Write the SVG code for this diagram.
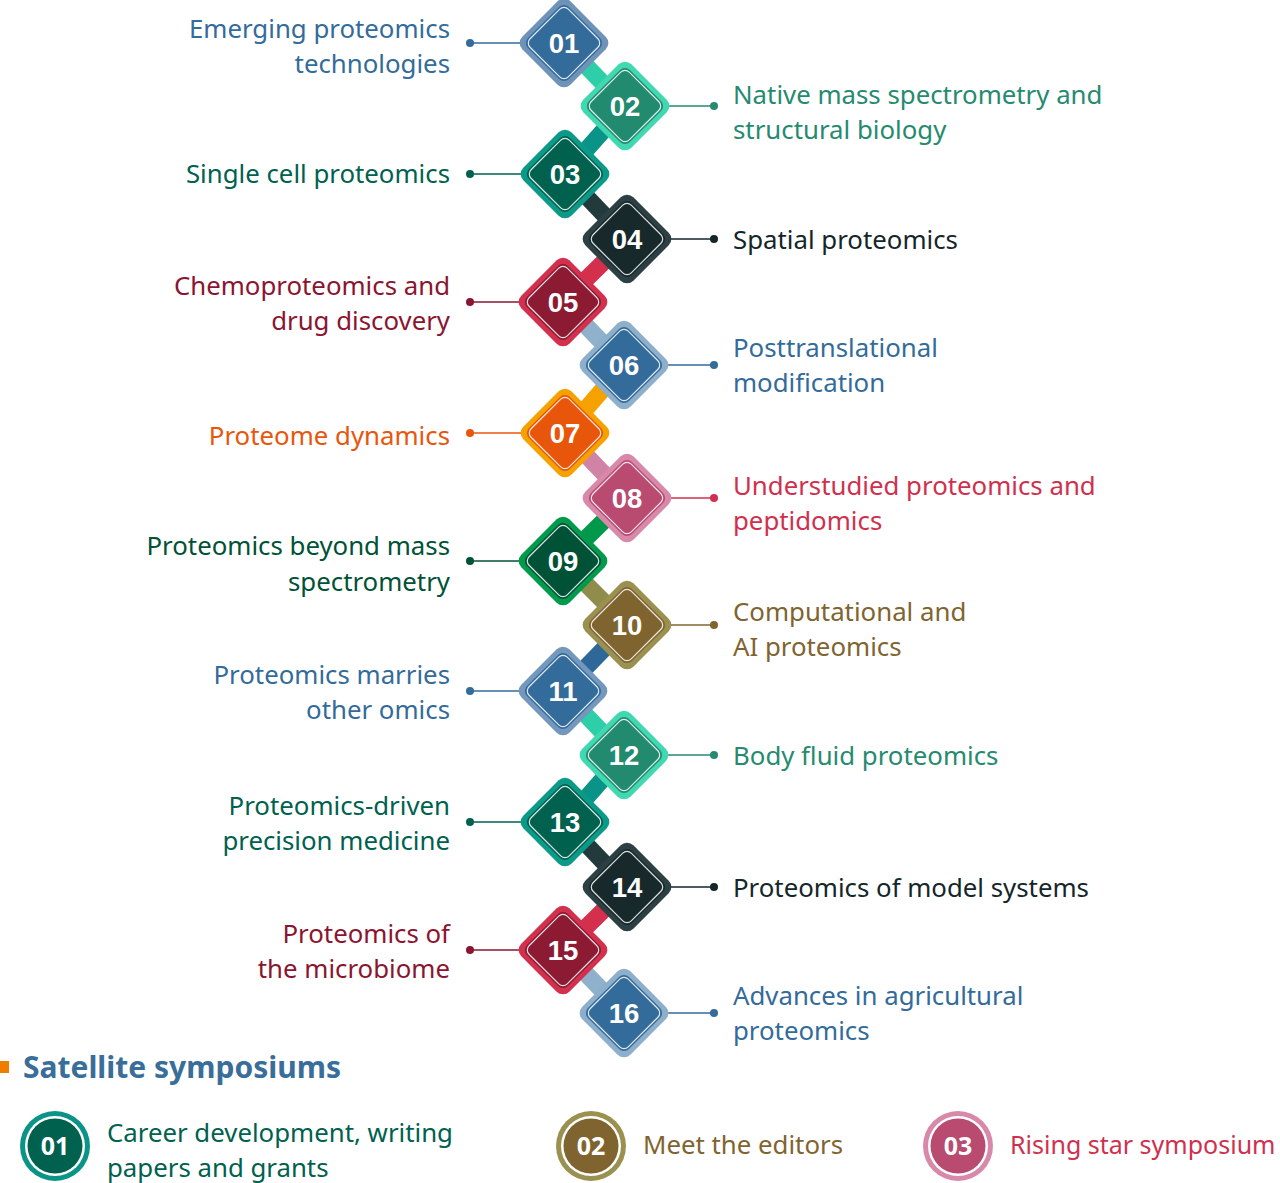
<svg xmlns="http://www.w3.org/2000/svg" width="1280" height="1183" viewBox="0 0 1280 1183">
<style>
.lbl{font-family:"Noto Sans","Open Sans",sans-serif;font-size:25.8px}
.l{text-anchor:end}
.num{font-family:"Liberation Sans",Arial,sans-serif;font-weight:bold;font-size:27.5px;fill:#fff;text-anchor:middle}
.snum{font-family:"Noto Sans",sans-serif;font-weight:bold;font-size:25px;fill:#fff;text-anchor:middle}
.bar{stroke-width:17;fill:none}
.ln{stroke-width:1.6;fill:none}
.wl{fill:none;stroke:#fff;stroke-width:1.2;stroke-opacity:0.85}
.blue{fill:#336b9a}.green{fill:#268a70}.teal{fill:#00614f}.dark{fill:#15262a}.crim{fill:#8b1530}.orng{fill:#e8560c}.red{fill:#d0304e}.dgrn{fill:#005236}.brwn{fill:#7f6430}
</style>
<defs>
<rect id="outer" x="-34" y="-34" width="68" height="68" rx="9" transform="rotate(45)"/>
<rect id="inner" x="-29" y="-29" width="58" height="58" rx="7" transform="rotate(45)"/>
<rect id="wline" x="-27" y="-27" width="54" height="54" rx="6" transform="rotate(45)"/>
</defs>
<rect width="1280" height="1183" fill="#fff"/>
<g id="connectors">
<line class="bar" x1="564" y1="43" x2="625" y2="106" stroke="#2ecfa8"/>
<line class="bar" x1="625" y1="106" x2="565" y2="174" stroke="#0a9488"/>
<line class="bar" x1="565" y1="174" x2="627" y2="239" stroke="#223a3c"/>
<line class="bar" x1="627" y1="239" x2="563" y2="302" stroke="#d4304e"/>
<line class="bar" x1="563" y1="302" x2="624" y2="365" stroke="#8fb1cc"/>
<line class="bar" x1="624" y1="365" x2="565" y2="433" stroke="#f5a200"/>
<line class="bar" x1="565" y1="433" x2="627" y2="498" stroke="#d183a7"/>
<line class="bar" x1="627" y1="498" x2="563" y2="561" stroke="#00994c"/>
<line class="bar" x1="563" y1="561" x2="627" y2="625" stroke="#908c4c"/>
<line class="bar" x1="627" y1="625" x2="563" y2="691" stroke="#2e6898"/>
<line class="bar" x1="563" y1="691" x2="624" y2="755" stroke="#2ecfa8"/>
<line class="bar" x1="624" y1="755" x2="565" y2="822" stroke="#0a9488"/>
<line class="bar" x1="565" y1="822" x2="627" y2="887" stroke="#223a3c"/>
<line class="bar" x1="627" y1="887" x2="563" y2="950" stroke="#d4304e"/>
<line class="bar" x1="563" y1="950" x2="624" y2="1013" stroke="#8fb1cc"/>
<g>
<line class="ln" x1="470" y1="43" x2="540" y2="43" stroke="#336b9a"/><circle cx="470" cy="43" r="4" class="blue"/>
<line class="ln" x1="650" y1="106" x2="714" y2="106" stroke="#268a70"/><circle cx="714" cy="106" r="4" class="green"/>
<line class="ln" x1="470" y1="174" x2="540" y2="174" stroke="#00614f"/><circle cx="470" cy="174" r="4" class="teal"/>
<line class="ln" x1="650" y1="239" x2="714" y2="239" stroke="#15262a"/><circle cx="714" cy="239" r="4" class="dark"/>
<line class="ln" x1="470" y1="302" x2="540" y2="302" stroke="#8b1530"/><circle cx="470" cy="302" r="4" class="crim"/>
<line class="ln" x1="650" y1="365" x2="714" y2="365" stroke="#336b9a"/><circle cx="714" cy="365" r="4" class="blue"/>
<line class="ln" x1="470" y1="433" x2="540" y2="433" stroke="#e8560c"/><circle cx="470" cy="433" r="4" class="orng"/>
<line class="ln" x1="650" y1="498" x2="714" y2="498" stroke="#d0304e"/><circle cx="714" cy="498" r="4" class="red"/>
<line class="ln" x1="470" y1="561" x2="540" y2="561" stroke="#005236"/><circle cx="470" cy="561" r="4" class="dgrn"/>
<line class="ln" x1="650" y1="625" x2="714" y2="625" stroke="#7f6430"/><circle cx="714" cy="625" r="4" class="brwn"/>
<line class="ln" x1="470" y1="691" x2="540" y2="691" stroke="#336b9a"/><circle cx="470" cy="691" r="4" class="blue"/>
<line class="ln" x1="650" y1="755" x2="714" y2="755" stroke="#268a70"/><circle cx="714" cy="755" r="4" class="green"/>
<line class="ln" x1="470" y1="822" x2="540" y2="822" stroke="#00614f"/><circle cx="470" cy="822" r="4" class="teal"/>
<line class="ln" x1="650" y1="887" x2="714" y2="887" stroke="#15262a"/><circle cx="714" cy="887" r="4" class="dark"/>
<line class="ln" x1="470" y1="950" x2="540" y2="950" stroke="#8b1530"/><circle cx="470" cy="950" r="4" class="crim"/>
<line class="ln" x1="650" y1="1013" x2="714" y2="1013" stroke="#336b9a"/><circle cx="714" cy="1013" r="4" class="blue"/>
</g>
</g>
<g id="n01" transform="translate(564,43)"><use href="#outer" fill="#6e92b8"/><use href="#inner" fill="#336b9a"/><use href="#wline" class="wl"/><text class="num" y="10">01</text></g>
<g id="n02" transform="translate(625,106)"><use href="#outer" fill="#3fd8b0"/><use href="#inner" fill="#228a6e"/><use href="#wline" class="wl"/><text class="num" y="10">02</text></g>
<g id="n03" transform="translate(565,174)"><use href="#outer" fill="#0b9a88"/><use href="#inner" fill="#00614f"/><use href="#wline" class="wl"/><text class="num" y="10">03</text></g>
<g id="n04" transform="translate(627,239)"><use href="#outer" fill="#2c3f42"/><use href="#inner" fill="#17292a"/><use href="#wline" class="wl"/><text class="num" y="10">04</text></g>
<g id="n05" transform="translate(563,302)"><use href="#outer" fill="#d3304e"/><use href="#inner" fill="#8b1a32"/><use href="#wline" class="wl"/><text class="num" y="10">05</text></g>
<g id="n06" transform="translate(624,365)"><use href="#outer" fill="#8eafcb"/><use href="#inner" fill="#336b9a"/><use href="#wline" class="wl"/><text class="num" y="10">06</text></g>
<g id="n07" transform="translate(565,433)"><use href="#outer" fill="#f5a200"/><use href="#inner" fill="#e8560c"/><use href="#wline" class="wl"/><text class="num" y="10">07</text></g>
<g id="n08" transform="translate(627,498)"><use href="#outer" fill="#d889aa"/><use href="#inner" fill="#b94a70"/><use href="#wline" class="wl"/><text class="num" y="10">08</text></g>
<g id="n09" transform="translate(563,561)"><use href="#outer" fill="#009a4a"/><use href="#inner" fill="#005236"/><use href="#wline" class="wl"/><text class="num" y="10">09</text></g>
<g id="n10" transform="translate(627,625)"><use href="#outer" fill="#9a9050"/><use href="#inner" fill="#7f6430"/><use href="#wline" class="wl"/><text class="num" y="10">10</text></g>
<g id="n11" transform="translate(563,691)"><use href="#outer" fill="#7498bd"/><use href="#inner" fill="#336b9a"/><use href="#wline" class="wl"/><text class="num" y="10">11</text></g>
<g id="n12" transform="translate(624,755)"><use href="#outer" fill="#3fd8b0"/><use href="#inner" fill="#228a6e"/><use href="#wline" class="wl"/><text class="num" y="10">12</text></g>
<g id="n13" transform="translate(565,822)"><use href="#outer" fill="#0b9a88"/><use href="#inner" fill="#00614f"/><use href="#wline" class="wl"/><text class="num" y="10">13</text></g>
<g id="n14" transform="translate(627,887)"><use href="#outer" fill="#2c3f42"/><use href="#inner" fill="#17292a"/><use href="#wline" class="wl"/><text class="num" y="10">14</text></g>
<g id="n15" transform="translate(563,950)"><use href="#outer" fill="#d3304e"/><use href="#inner" fill="#8b1a32"/><use href="#wline" class="wl"/><text class="num" y="10">15</text></g>
<g id="n16" transform="translate(624,1013)"><use href="#outer" fill="#8eafcb"/><use href="#inner" fill="#336b9a"/><use href="#wline" class="wl"/><text class="num" y="10">16</text></g>
<g id="labels">
<text class="lbl l blue" x="450" y="38">Emerging proteomics</text>
<text class="lbl l blue" x="450" y="73">technologies</text>
<text class="lbl green" x="733" y="104">Native mass spectrometry and</text>
<text class="lbl green" x="733" y="139">structural biology</text>
<text class="lbl l teal" x="450" y="183">Single cell proteomics</text>
<text class="lbl dark" x="733" y="249">Spatial proteomics</text>
<text class="lbl l crim" x="450" y="295">Chemoproteomics and</text>
<text class="lbl l crim" x="450" y="330">drug discovery</text>
<text class="lbl blue" x="733" y="357">Posttranslational</text>
<text class="lbl blue" x="733" y="392">modification</text>
<text class="lbl l orng" x="450" y="445">Proteome dynamics</text>
<text class="lbl red" x="733" y="495">Understudied proteomics and</text>
<text class="lbl red" x="733" y="530">peptidomics</text>
<text class="lbl l dgrn" x="450" y="555">Proteomics beyond mass</text>
<text class="lbl l dgrn" x="450" y="591">spectrometry</text>
<text class="lbl brwn" x="733" y="621">Computational and</text>
<text class="lbl brwn" x="733" y="656">AI proteomics</text>
<text class="lbl l blue" x="450" y="684">Proteomics marries</text>
<text class="lbl l blue" x="450" y="719">other omics</text>
<text class="lbl green" x="733" y="765">Body fluid proteomics</text>
<text class="lbl l teal" x="450" y="815">Proteomics-driven</text>
<text class="lbl l teal" x="450" y="850">precision medicine</text>
<text class="lbl dark" x="733" y="897">Proteomics of model systems</text>
<text class="lbl l crim" x="450" y="943">Proteomics of</text>
<text class="lbl l crim" x="450" y="978">the microbiome</text>
<text class="lbl blue" x="733" y="1005">Advances in agricultural</text>
<text class="lbl blue" x="733" y="1040">proteomics</text>
</g>
<g id="satellite">
<rect x="0" y="1061" width="9" height="12" fill="#f07c00"/>
<text x="23" y="1078" style="font-family:'Noto Sans',sans-serif;font-weight:bold;font-size:30px" fill="#3a6e9a">Satellite symposiums</text>
<g id="s01"><circle cx="55" cy="1146" r="35" fill="#0a9488"/><circle cx="55" cy="1146" r="30" fill="#fff"/><circle cx="55" cy="1146" r="27.5" fill="#00614f"/><text class="snum" x="55" y="1155">01</text></g>
<text class="lbl teal" x="107" y="1142">Career development, writing</text>
<text class="lbl teal" x="107" y="1177">papers and grants</text>
<g id="s02"><circle cx="591" cy="1146" r="35" fill="#9a9050"/><circle cx="591" cy="1146" r="30" fill="#fff"/><circle cx="591" cy="1146" r="27.5" fill="#7f6430"/><text class="snum" x="591" y="1155">02</text></g>
<text class="lbl brwn" x="643" y="1154">Meet the editors</text>
<g id="s03"><circle cx="958" cy="1146" r="35" fill="#d889aa"/><circle cx="958" cy="1146" r="30" fill="#fff"/><circle cx="958" cy="1146" r="27.5" fill="#b94a70"/><text class="snum" x="958" y="1155">03</text></g>
<text class="lbl red" x="1010" y="1154" style="font-size:25px">Rising star symposium</text>
</g>
</svg>
